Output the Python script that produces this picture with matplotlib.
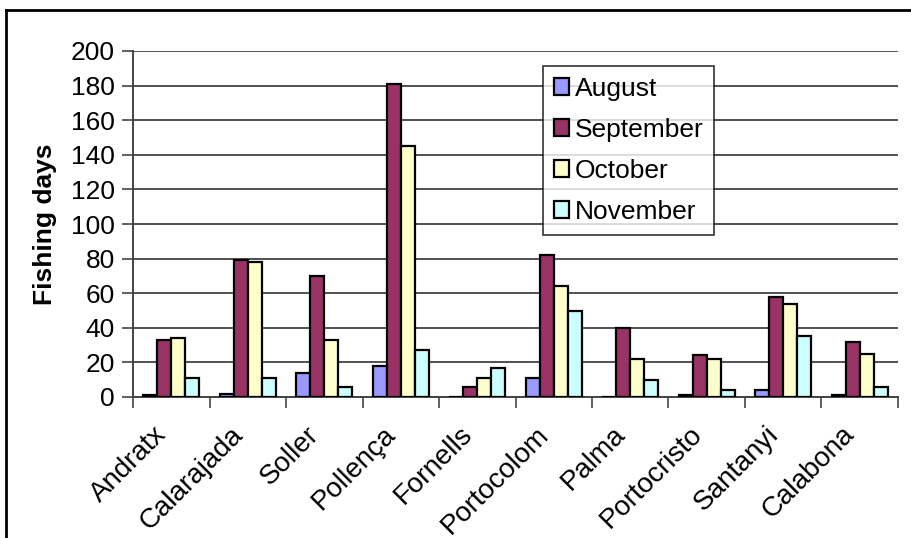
import matplotlib
matplotlib.use("Agg")
import matplotlib.pyplot as plt
from matplotlib.lines import Line2D
from matplotlib.transforms import ScaledTranslation
import numpy as np

plt.rcParams['font.family'] = ['Liberation Sans', 'DejaVu Sans']

ports = ["Andratx", "Calarajada", "Soller", "Pollença", "Fornells",
         "Portocolom", "Palma", "Portocristo", "Santanyi", "Calabona"]
months = ["August", "September", "October", "November"]
august = [1, 2, 14, 18, 0, 11, 0, 1, 4, 1]
september = [33, 79, 70, 181, 6, 82, 40, 24, 58, 32]
october = [34, 78, 33, 145, 11, 64, 22, 22, 54, 25]
november = [11, 11, 6, 27, 17, 50, 10, 4, 35, 6]
colors = ["#9999FF", "#993366", "#FFFFCC", "#CCFFFF"]
y_ticks = [0, 20, 40, 60, 80, 100, 120, 140, 160, 180, 200]

W, H = 912, 538
fig = plt.figure(figsize=(W / 100, H / 100), dpi=100)
ax = fig.add_axes([133 / W, 1 - 397 / H, (898 - 133) / W, (397 - 51) / H])

series = [august, september, october, november]
x = np.arange(len(ports))
bw = 1 / 5.5
for i, (vals, col, name) in enumerate(zip(series, colors, months)):
    ax.bar(x + (i - 1.5) * bw, vals, width=bw, color=col, edgecolor="black",
           linewidth=1.6, label=name, zorder=3)

ax.set_xlim(-0.5, len(ports) - 0.5)
ax.set_ylim(0, 200)
ax.set_yticks(y_ticks)
ax.set_yticklabels([str(v) for v in y_ticks], fontsize=19)
ax.yaxis.grid(True, color="#333333", linewidth=1.2, zorder=0)
ax.set_axisbelow(True)

ax.set_xticks(x)
ax.set_xticklabels(ports, fontsize=20, rotation=45, ha="right",
                   rotation_mode="anchor")
ax.tick_params(axis="x", length=0, pad=14)
shift = ScaledTranslation(-18 / 100, -5 / 100, fig.dpi_scale_trans)
for lbl in ax.get_xticklabels():
    lbl.set_transform(lbl.get_transform() + shift)
ax.set_xticks(np.arange(len(ports) + 1) - 0.5, minor=True)
ax.tick_params(axis="x", which="minor", length=8, width=1.2, color="#444444")
ax.tick_params(axis="y", length=8, width=1.2, color="#444444", pad=5)

for s in ["top", "right"]:
    ax.spines[s].set_visible(False)
for s in ["left", "bottom"]:
    ax.spines[s].set_color("#444444")
    ax.spines[s].set_linewidth(1.4)

ax.set_ylabel("Fishing days", fontsize=19, fontweight="bold", labelpad=10)

leg = ax.legend(loc="upper left", bbox_to_anchor=((543 - 133) / (898 - 133), 1 - (66 - 51) / (397 - 51)),
                fontsize=19, frameon=True, fancybox=False, edgecolor="black",
                handlelength=0.6, handleheight=0.6, handletextpad=0.2,
                labelspacing=0.65, borderpad=0.4, borderaxespad=0)
leg.get_frame().set_linewidth(1.2)

# outer chart border (left and top edges)
fig.add_artist(Line2D([6 / W, 6 / W], [0, 1 - 10 / H], transform=fig.transFigure,
                      color="black", linewidth=2))
fig.add_artist(Line2D([6 / W, 1], [1 - 10 / H, 1 - 10 / H], transform=fig.transFigure,
                      color="black", linewidth=2))

fig.savefig("out.png", dpi=100)
